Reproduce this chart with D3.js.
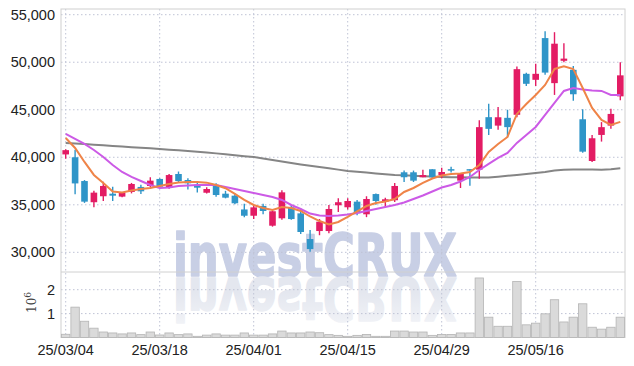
<!DOCTYPE html>
<html>
<head>
<meta charset="utf-8">
<script src="https://cdn.jsdelivr.net/npm/d3@7"></script>
<style>
  body { margin: 0; background: #fff; }
  svg text { font-family: "Liberation Sans Narrow", "Liberation Sans", sans-serif; }
</style>
</head>
<body>
<div id="chart"></div>
<script>
// trading days (yy/mm/dd)
const dates = [
  "25/03/04","25/03/05","25/03/06","25/03/07","25/03/10","25/03/11","25/03/12","25/03/13","25/03/14","25/03/17",
  "25/03/18","25/03/19","25/03/20","25/03/21","25/03/24","25/03/25","25/03/26","25/03/27","25/03/28","25/03/31",
  "25/04/01","25/04/02","25/04/03","25/04/04","25/04/07","25/04/08","25/04/09","25/04/10","25/04/11","25/04/14",
  "25/04/15","25/04/16","25/04/17","25/04/18","25/04/21","25/04/22","25/04/23","25/04/24","25/04/25","25/04/28",
  "25/04/29","25/04/30","25/05/02","25/05/07","25/05/08","25/05/09","25/05/12","25/05/13","25/05/14","25/05/15",
  "25/05/16","25/05/19","25/05/20","25/05/21","25/05/22","25/05/23","25/05/26","25/05/27","25/05/28","25/05/29"
];
const openP = [40300,40000,37500,35270,35900,36170,35860,36350,36880,36980,
  37720,36800,38240,37610,37100,36270,36980,36170,35960,34510,
  33850,34880,32800,33580,34740,34100,31400,32240,32240,34950,
  34740,35330,34000,36130,35330,35480,38420,38420,37900,38740,
  38130,38750,37540,38750,38700,44220,43330,44150,44470,48780,
  48150,52540,47800,50150,49200,44000,39610,42350,43330,46410];
const highP = [40850,40800,37600,36490,37430,36900,36350,37300,37100,37900,
  37800,38250,38500,37800,37300,36850,37260,36470,36200,35100,
  35000,35100,34420,36530,34950,34620,32350,33500,34980,35700,
  35700,35500,35900,36200,35750,37300,38600,38600,38700,38750,
  38900,39000,38350,38750,43900,45630,45300,45000,49540,48900,
  49840,53270,53160,52000,49600,45050,42350,43700,45100,50000];
const lowP = [39850,36100,35200,34740,35400,35400,35800,36200,36130,36850,
  36800,36700,37400,36600,36300,36200,35860,35680,35050,33690,
  33500,34000,32700,33430,33420,31920,30060,31800,32000,34240,
  34500,33900,33700,35000,34800,35300,37400,37400,37900,37800,
  37800,38400,36770,37000,37750,42350,42900,42100,44210,47500,
  47500,48680,46560,50000,45950,40480,39500,41650,43000,46000];
const closeP = [40750,37250,35330,36280,36980,35960,36250,37190,36420,37540,
  36900,38130,37500,37260,36800,36660,36030,35750,35160,33850,
  34730,34350,34320,36310,33500,32140,30340,33220,34560,35270,
  35400,34110,35610,35400,35580,36980,37900,37540,38130,37900,
  38450,38650,38320,38600,43170,42990,44210,43170,49270,47730,
  48780,48910,51950,50380,46630,40590,42000,43170,44560,48620];
const volume = [135000,1270000,680000,390000,230000,190000,150000,190000,120000,230000,
  105000,190000,120000,150000,50000,100000,150000,100000,100000,190000,
  100000,100000,150000,270000,190000,190000,230000,200000,120000,90000,
  50000,90000,130000,50000,50000,270000,270000,230000,230000,90000,
  130000,130000,190000,190000,2490000,850000,470000,470000,2340000,530000,
  600000,990000,1580000,650000,850000,1410000,430000,350000,430000,850000];
// moving averages
const ma5 = [42030,40980,39510,38140,37300,36400,36300,36500,36660,36770,
  36980,37190,37350,37400,37400,37330,37080,36740,36140,35510,
  34980,34660,34450,34770,34660,34350,33770,33290,32930,33190,
  33720,34300,34870,35190,35350,35610,36350,36770,37300,37770,
  38080,38240,38300,38450,39190,40560,41400,42140,44560,45610,
  46560,47610,49290,49560,49290,47290,45190,43930,43400,43720];
const ma20 = [42450,41930,41400,40770,40030,39190,38450,37930,37500,37080,
  36770,36820,36980,37030,37080,37080,37080,36870,36660,36450,
  36240,36030,35820,35510,34980,34560,34080,33870,33820,33870,
  33980,34140,34350,34560,34770,34980,35240,35610,35980,36400,
  36820,37080,37450,37930,38660,39300,39930,40450,41510,42350,
  43190,44450,45720,46980,47290,47140,47030,46980,46560,46560];
const ma60 = [41500,41450,41400,41330,41260,41190,41130,41060,41000,40940,
  40870,40800,40730,40650,40580,40500,40410,40310,40220,40120,
  40030,39880,39720,39560,39400,39240,39100,38970,38850,38700,
  38560,38470,38390,38300,38220,38140,38100,38060,38010,37970,
  37930,37910,37900,37880,37870,37880,37960,38050,38130,38230,
  38340,38450,38600,38680,38720,38720,38710,38700,38730,38840];
const tickDates = ["25/03/04","25/03/18","25/04/01","25/04/15","25/04/29","25/05/16"];
const priceTicks = [30000,35000,40000,45000,50000,55000];
const volTicks = [1000000,2000000];

const W = 634, H = 366;
const m = {left: 61, right: 625, top: 9, split: 272, bottom: 337.5};

const svg = d3.select("#chart").append("svg")
  .attr("width", W).attr("height", H);

const x = d3.scaleBand().domain(dates).range([m.left, m.right]).padding(0);
const xc = d => x(d) + x.bandwidth() / 2;
const y = d3.scaleLinear().domain([27930, 55600]).range([m.split, m.top]);
const yv = d3.scaleLinear().domain([0, 2740000]).range([m.bottom, m.split]);

// watermark + reflection
const wm = svg.append("g");
function mark(g, fill) {
  return g.append("text")
    .attr("x", 173).attr("y", 276)
    .attr("textLength", 284).attr("lengthAdjust", "spacingAndGlyphs")
    .style("font-family", "'DejaVu Sans', sans-serif")
    .style("font-weight", "bold").style("font-size", "58px")
    .attr("fill", fill).attr("stroke", fill).attr("stroke-width", 1.6)
    .attr("stroke-linejoin", "round")
    .text("investCRUX");
}
mark(wm, "#c8cfe5");
mark(wm, "#e4e7ef").attr("transform", "translate(0,554) scale(1,-1)");
// fade the reflection out into the volume panel
const grad = svg.append("defs").append("linearGradient")
  .attr("id", "fade").attr("x1", 0).attr("x2", 0).attr("y1", 0).attr("y2", 1);
grad.append("stop").attr("offset", "0%").attr("stop-color", "#fff").attr("stop-opacity", 0);
grad.append("stop").attr("offset", "100%").attr("stop-color", "#fff").attr("stop-opacity", 0.6);
svg.append("rect").attr("x", 160).attr("y", 292).attr("width", 310).attr("height", 40)
  .attr("fill", "url(#fade)");

// grid
const grid = svg.append("g").attr("stroke", "#bfc3d6").attr("stroke-dasharray", "1.5,2.5");
grid.selectAll(".hp").data(priceTicks).join("line")
  .attr("x1", m.left).attr("x2", m.right).attr("y1", d => y(d)).attr("y2", d => y(d));
grid.selectAll(".hv").data(volTicks).join("line")
  .attr("x1", m.left).attr("x2", m.right).attr("y1", d => yv(d)).attr("y2", d => yv(d));
grid.selectAll(".vx").data(tickDates).join("line")
  .attr("x1", d => xc(d)).attr("x2", d => xc(d)).attr("y1", m.top).attr("y2", m.bottom);

// frame
svg.append("rect").attr("x", m.left).attr("y", m.top)
  .attr("width", m.right - m.left).attr("height", m.bottom - m.top)
  .attr("fill", "none").attr("stroke", "#d0d0d0");
svg.append("line").attr("x1", m.left).attr("x2", m.right).attr("y1", m.split).attr("y2", m.split)
  .attr("stroke", "#d0d0d0");

// volume bars
svg.append("g").selectAll("rect").data(dates).join("rect")
  .attr("x", d => x(d) + 0.5)
  .attr("width", x.bandwidth() - 1)
  .attr("y", (d, i) => yv(volume[i]))
  .attr("height", (d, i) => m.bottom - yv(volume[i]))
  .attr("fill", "#dadada").attr("stroke", "#b4b4b4").attr("stroke-width", 0.8);

// moving averages
const line = arr => d3.line().x((d, i) => xc(dates[i])).y(d => y(d))(arr);
svg.append("path").attr("d", line(ma60)).attr("fill", "none")
  .attr("stroke", "#858585").attr("stroke-width", 2);

// candles
const up = "#e31c64", down = "#2f95c8";
const bw = 6.6;
const candles = svg.append("g").selectAll("g").data(dates).join("g");
candles.append("line")
  .attr("x1", d => xc(d)).attr("x2", d => xc(d))
  .attr("y1", (d, i) => y(highP[i])).attr("y2", (d, i) => y(lowP[i]))
  .attr("stroke", (d, i) => closeP[i] >= openP[i] ? up : down)
  .attr("stroke-width", 1.4);
candles.append("rect")
  .attr("x", d => xc(d) - bw / 2).attr("width", bw)
  .attr("y", (d, i) => y(Math.max(openP[i], closeP[i])))
  .attr("height", (d, i) => Math.max(1.5, Math.abs(y(openP[i]) - y(closeP[i]))))
  .attr("fill", (d, i) => closeP[i] >= openP[i] ? up : down);

svg.append("path").attr("d", line(ma20)).attr("fill", "none")
  .attr("stroke", "#cc5ae6").attr("stroke-width", 2);
svg.append("path").attr("d", line(ma5)).attr("fill", "none")
  .attr("stroke", "#ef8448").attr("stroke-width", 2);

// axes
const fmt = d3.format(",");
const yAxis = svg.append("g").attr("transform", `translate(${m.left},0)`)
  .call(d3.axisLeft(y).tickValues(priceTicks).tickSize(0).tickPadding(6).tickFormat(fmt));
const vAxis = svg.append("g").attr("transform", `translate(${m.left},0)`)
  .call(d3.axisLeft(yv).tickValues(volTicks).tickSize(0).tickPadding(6).tickFormat(d => d / 1e6));
const xAxis = svg.append("g").attr("transform", `translate(0,${m.bottom})`)
  .call(d3.axisBottom(x).tickValues(tickDates).tickSize(0).tickPadding(7));
[yAxis, vAxis, xAxis].forEach(a => {
  a.select(".domain").remove();
  a.selectAll("text").style("font-size", "14.5px").attr("fill", "#222");
});

// 10^6 label
const exp = svg.append("text").attr("transform", "translate(36,313) rotate(-90)")
  .style("font-family", "'DejaVu Serif', serif").style("font-size", "12px").attr("fill", "#444");
exp.append("tspan").text("10");
exp.append("tspan").attr("dy", -5).style("font-size", "9px").text("6");
</script>
</body>
</html>
